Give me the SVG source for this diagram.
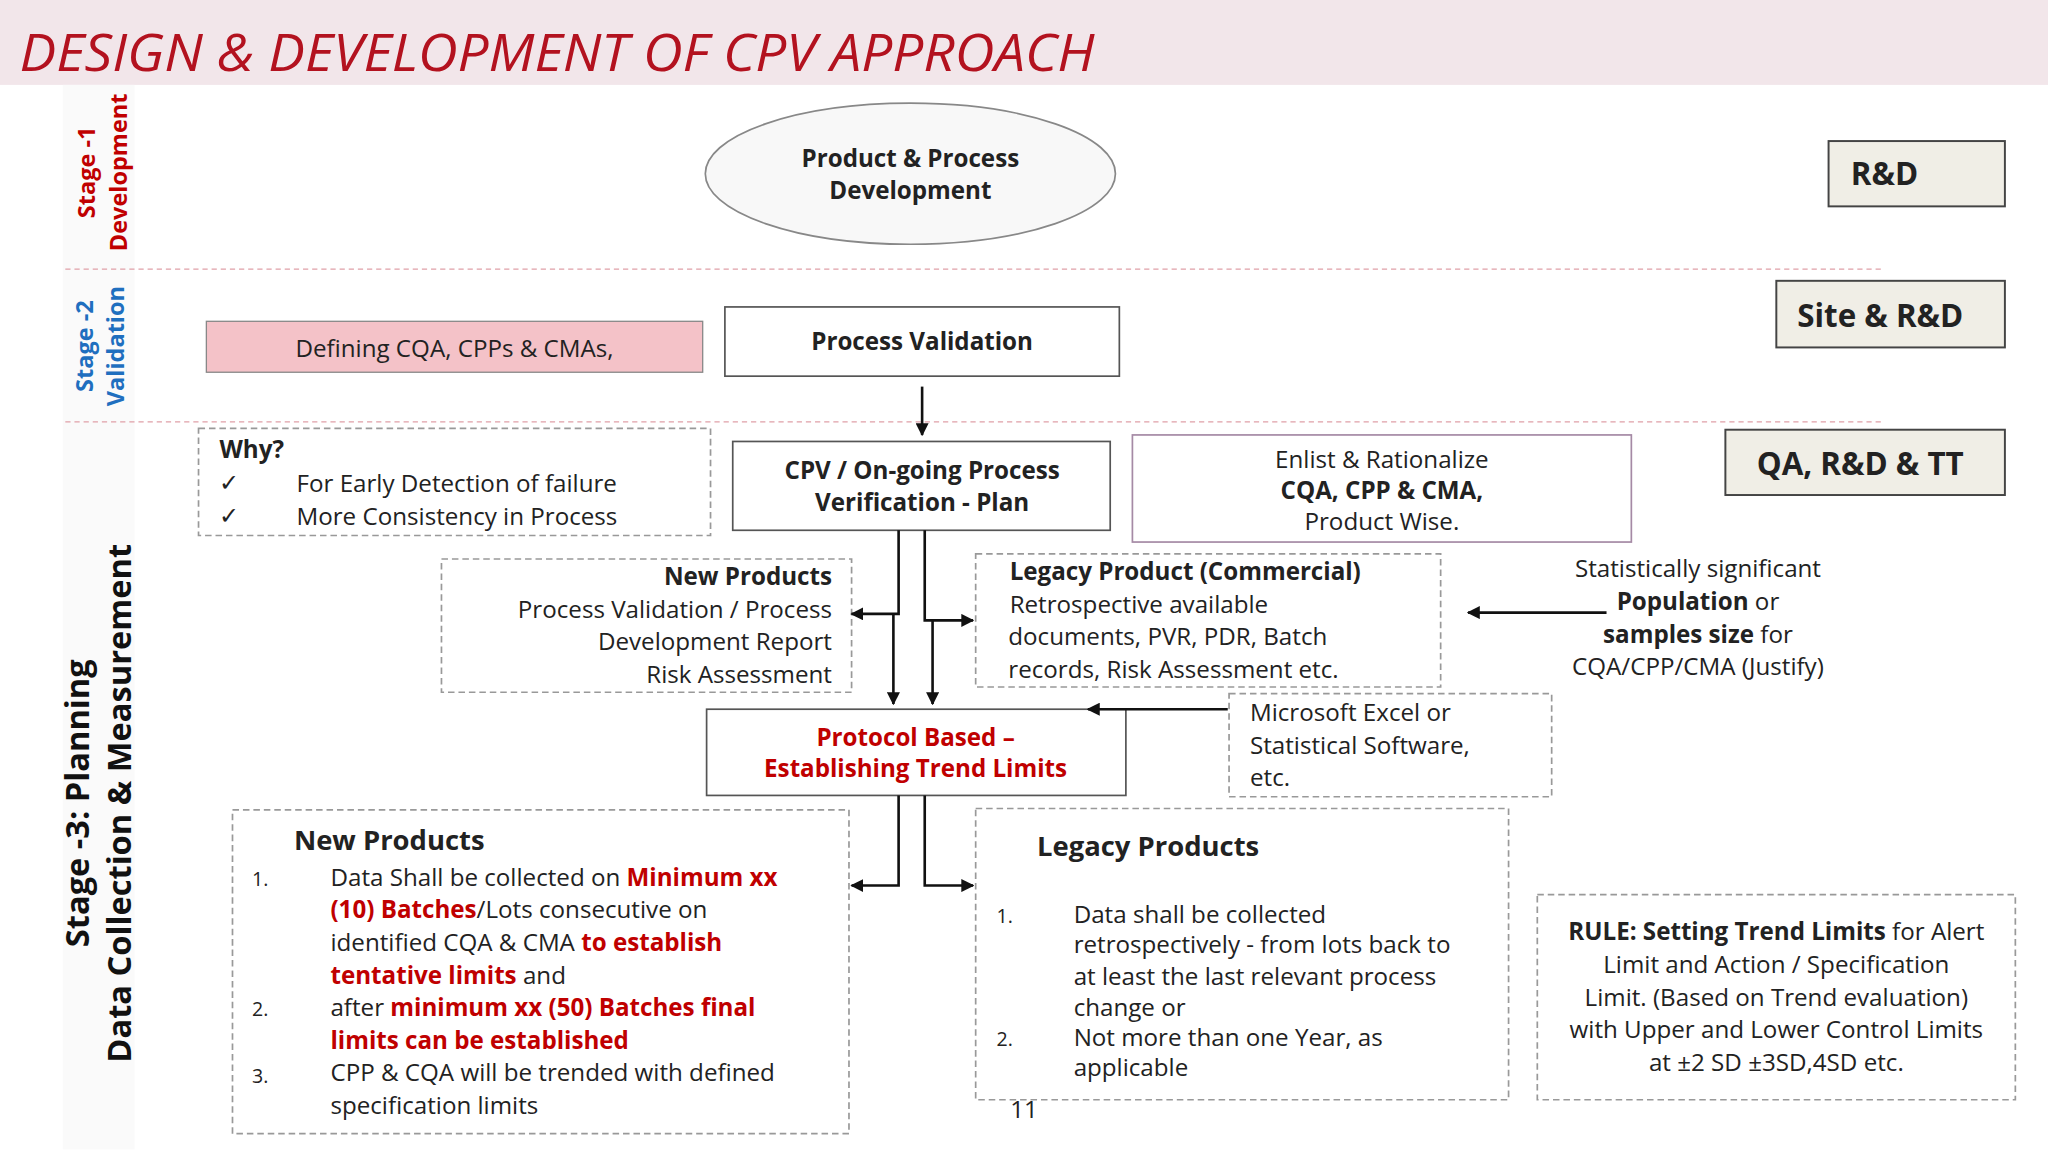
<svg xmlns="http://www.w3.org/2000/svg" width="2048" height="1152" viewBox="0 0 2048 1152">
<defs>
<marker id="ah" viewBox="0 0 10 10" refX="9" refY="5" markerWidth="5" markerHeight="5" orient="auto"><path d="M0,0 L10,5 L0,10 z" fill="#111"/></marker>
<style>
text{font-family:"Open Sans",Lato,"Liberation Sans",sans-serif;fill:#222}
.t{font-size:18.5px}
.b{font-weight:bold}
.r{fill:#c00000;font-weight:bold}
.dash{fill:#fff;stroke:#999;stroke-width:1.3;stroke-dasharray:5 3}
.box{fill:#fff;stroke:#555;stroke-width:1.3}
.role{fill:#f0eee6;stroke:#444;stroke-width:1.5}
.cn{fill:none;stroke:#111;stroke-width:2}
</style>
</defs>
<rect width="2048" height="1152" fill="#fff"/>
<g transform="scale(1.30612)">
<rect x="0" y="0" width="1568" height="65" fill="#f2e6ea"/>
<text x="15" y="54" textLength="823" lengthAdjust="spacingAndGlyphs" style="font-size:39px;font-style:italic;fill:#b3121f">DESIGN &amp; DEVELOPMENT OF CPV APPROACH</text>
<rect x="48" y="65" width="55" height="815" fill="#fafafa"/>
<g id="stage-labels">
<text transform="translate(73,132) rotate(-90)" text-anchor="middle" style="font-size:18px;font-weight:bold;fill:#c00000">Stage -1</text>
<text transform="translate(97,132) rotate(-90)" text-anchor="middle" style="font-size:18px;font-weight:bold;fill:#c00000">Development</text>
<text transform="translate(71,265) rotate(-90)" text-anchor="middle" style="font-size:18px;font-weight:bold;fill:#1f6fbf">Stage -2</text>
<text transform="translate(95,265) rotate(-90)" text-anchor="middle" style="font-size:18px;font-weight:bold;fill:#1f6fbf">Validation</text>
<text transform="translate(68,615) rotate(-90)" text-anchor="middle" style="font-size:25px;font-weight:bold;fill:#111">Stage -3: Planning</text>
<text transform="translate(100,615) rotate(-90)" text-anchor="middle" style="font-size:25px;font-weight:bold;fill:#111">Data Collection &amp; Measurement</text>
</g>
<line x1="50" y1="206" x2="1443" y2="206" stroke="#e0a0a8" stroke-dasharray="4 3"/>
<line x1="50" y1="323" x2="1443" y2="323" stroke="#e0a0a8" stroke-dasharray="4 3"/>
<g id="n-ppd"><ellipse cx="697" cy="133" rx="157" ry="54" fill="#f8f8f8" stroke="#888" stroke-width="1.3"/>
<text x="697" y="128" text-anchor="middle" class="t b">Product &amp; Process</text><text x="697" y="152" text-anchor="middle" class="t b">Development</text></g>
<g id="n-rd"><rect x="1400" y="108" width="135" height="50" class="role"/><text x="1417" y="142" style="font-size:24px;font-weight:bold">R&amp;D</text></g>
<g id="n-site"><rect x="1360" y="215" width="175" height="51" class="role"/><text x="1376" y="250" style="font-size:24px;font-weight:bold">Site &amp; R&amp;D</text></g>
<g id="n-qa"><rect x="1321" y="329" width="214" height="50" class="role"/><text x="1345" y="364" style="font-size:24px;font-weight:bold">QA, R&amp;D &amp; TT</text></g>
<g id="n-define"><rect x="158" y="246" width="380" height="39" fill="#f4c2c8" stroke="#888"/><text x="348" y="273" text-anchor="middle" class="t">Defining CQA, CPPs &amp; CMAs,</text></g>
<g id="n-pv"><rect x="555" y="235" width="302" height="53" class="box" stroke="#999"/><text x="706" y="268" text-anchor="middle" class="t b">Process Validation</text></g>
<g id="n-why"><rect x="152" y="328" width="392" height="82" class="dash"/>
<text x="168" y="351" class="t b">Why?</text>
<text x="168" y="376" class="t">✓</text><text x="227" y="377" class="t">For Early Detection of failure</text>
<text x="168" y="401" class="t">✓</text><text x="227" y="402" class="t">More Consistency in Process</text></g>
<g id="n-cpv"><rect x="561" y="338" width="289" height="68" class="box" stroke="#333"/>
<text x="706" y="367" text-anchor="middle" class="t b">CPV / On-going Process</text><text x="706" y="391" text-anchor="middle" class="t b">Verification - Plan</text></g>
<g id="n-enlist"><rect x="867" y="333" width="382" height="82" fill="#fff" stroke="#a58aa5" stroke-width="1.3"/>
<text x="1058" y="358" text-anchor="middle" class="t">Enlist &amp; Rationalize</text>
<text x="1058" y="382" text-anchor="middle" class="t b">CQA, CPP &amp; CMA,</text>
<text x="1058" y="406" text-anchor="middle" class="t">Product Wise.</text></g>
<g id="n-newp"><rect x="338" y="428" width="314" height="102" class="dash"/>
<text x="637" y="448" text-anchor="end" class="t b">New Products</text>
<text x="637" y="473" text-anchor="end" class="t">Process Validation / Process</text>
<text x="637" y="498" text-anchor="end" class="t">Development Report</text>
<text x="637" y="523" text-anchor="end" class="t">Risk Assessment</text></g>
<g id="n-legp"><rect x="747" y="424" width="356" height="102" class="dash"/>
<text x="773" y="444" class="t b">Legacy Product (Commercial)</text>
<text x="773" y="469" class="t">Retrospective available</text>
<text x="772" y="494" class="t">documents, PVR, PDR, Batch</text>
<text x="772" y="519" class="t">records, Risk Assessment etc.</text></g>
<g id="n-stat">
<text x="1300" y="442" text-anchor="middle" class="t">Statistically significant</text>
<text x="1300" y="467" text-anchor="middle" class="t"><tspan font-weight="bold">Population</tspan>  or</text>
<text x="1300" y="492" text-anchor="middle" class="t"><tspan font-weight="bold">samples size</tspan> for</text>
<text x="1300" y="517" text-anchor="middle" class="t">CQA/CPP/CMA (Justify)</text></g>
<g id="n-proto"><rect x="541" y="543" width="321" height="66" class="box" stroke="#333"/>
<text x="701" y="571" text-anchor="middle" class="t r">Protocol Based –</text>
<text x="701" y="595" text-anchor="middle" class="t r">Establishing Trend Limits</text></g>
<g id="n-ms"><rect x="941" y="531" width="247" height="79" class="dash"/>
<text x="957" y="552" class="t">Microsoft Excel or</text>
<text x="957" y="577" class="t">Statistical Software,</text>
<text x="957" y="602" class="t">etc.</text></g>
<g id="n-newp2"><rect x="178" y="620" width="472" height="248" class="dash"/>
<text x="225" y="651" style="font-size:21px;font-weight:bold">New Products</text>
<text x="193" y="678" style="font-size:15px">1.</text>
<text x="253" y="678" class="t">Data Shall be collected on <tspan class="r">Minimum xx</tspan></text>
<text x="253" y="703" class="t"><tspan class="r">(10) Batches</tspan>/Lots consecutive on</text>
<text x="253" y="728" class="t">identified CQA &amp; CMA <tspan class="r">to establish</tspan></text>
<text x="253" y="753" class="t"><tspan class="r">tentative limits</tspan> and</text>
<text x="193" y="778" style="font-size:15px">2.</text>
<text x="253" y="778" class="t">after <tspan class="r">minimum xx (50) Batches final</tspan></text>
<text x="253" y="803" class="t r">limits can be established</text>
<text x="193" y="829" style="font-size:15px">3.</text>
<text x="253" y="828" class="t">CPP &amp; CQA will be trended with defined</text>
<text x="253" y="853" class="t">specification limits</text></g>
<g id="n-legp2"><rect x="747" y="619" width="408" height="223" class="dash"/>
<text x="794" y="655" style="font-size:21px;font-weight:bold">Legacy Products</text>
<text x="763" y="707" style="font-size:15px">1.</text>
<text x="822" y="707" class="t">Data shall be collected</text>
<text x="822" y="730" class="t">retrospectively - from lots back to</text>
<text x="822" y="754" class="t">at least the last relevant process</text>
<text x="822" y="778" class="t">change or</text>
<text x="763" y="801" style="font-size:15px">2.</text>
<text x="822" y="801" class="t">Not more than one Year, as</text>
<text x="822" y="824" class="t">applicable</text></g>
<g id="n-rule"><rect x="1177" y="685" width="366" height="157" class="dash"/>
<text x="1360" y="720" text-anchor="middle" class="t"><tspan font-weight="bold">RULE: Setting Trend Limits</tspan> for Alert</text>
<text x="1360" y="745" text-anchor="middle" class="t">Limit and Action / Specification</text>
<text x="1360" y="770" text-anchor="middle" class="t">Limit. (Based on Trend evaluation)</text>
<text x="1360" y="795" text-anchor="middle" class="t">with Upper and Lower Control Limits</text>
<text x="1360" y="820" text-anchor="middle" class="t">at ±2 SD ±3SD,4SD etc.</text></g>
<text x="784" y="856" text-anchor="middle" class="t">11</text>
<g id="connectors">
<path class="cn" d="M706 296 V333" marker-end="url(#ah)"/>
<path class="cn" d="M688 406 V470 H652" marker-end="url(#ah)"/>
<path class="cn" d="M684 470 V539" marker-end="url(#ah)"/>
<path class="cn" d="M708 406 V475 H745" marker-end="url(#ah)"/>
<path class="cn" d="M714 475 V539" marker-end="url(#ah)"/>
<path class="cn" d="M940 543 H833" marker-end="url(#ah)"/>
<path class="cn" d="M1230 469 H1124" marker-end="url(#ah)"/>
<path class="cn" d="M688 609 V678 H652" marker-end="url(#ah)"/>
<path class="cn" d="M708 609 V678 H745" marker-end="url(#ah)"/>
</g>
</g>
</svg>
